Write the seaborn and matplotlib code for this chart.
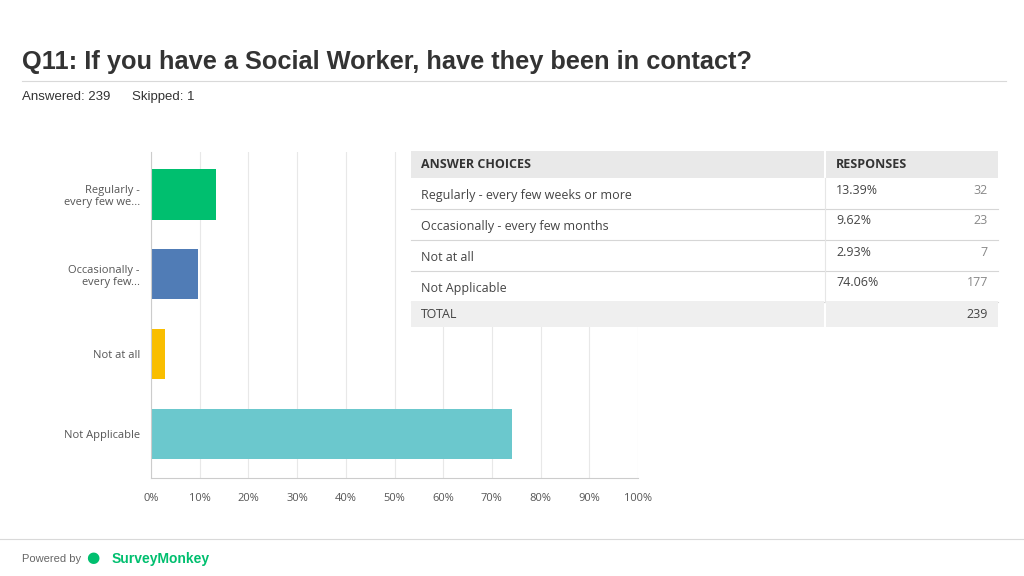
import matplotlib
matplotlib.use("Agg")
import matplotlib.pyplot as plt
import matplotlib.patches as mpatches
import pandas as pd
import seaborn as sns

# ── Data ─────────────────────────────────────────────────────────────────────
bar_labels = ["Regularly -\nevery few we...", "Occasionally -\nevery few...",
              "Not at all", "Not Applicable"]
choices = ["Regularly - every few weeks or more", "Occasionally - every few months",
           "Not at all", "Not Applicable"]
percents = [13.39, 9.62, 2.93, 74.06]
counts = [32, 23, 7, 177]
total = 239
skipped = 1
bar_colors = ["#00bf6f", "#507cb6", "#f9be00", "#6bc8cd"]
ticks = [0, 10, 20, 30, 40, 50, 60, 70, 80, 90, 100]

W, H = 1024, 576
fig = plt.figure(figsize=(W / 100, H / 100), dpi=100)
fig.patch.set_facecolor("white")

def fx(px):
    return px / W

def fy(py):
    return 1 - py / H

# ── Header / footer ──────────────────────────────────────────────────────────
fig.text(fx(22), fy(62), "Q11: If you have a Social Worker, have they been in contact?",
         fontsize=18.3, fontweight="bold", color="#333333", va="center", family="Liberation Sans")
fig.add_artist(plt.Line2D([fx(22), fx(1006)], [fy(81), fy(81)], color="#d9d9d9", lw=0.8))
fig.text(fx(22), fy(97), f"Answered: {total}", fontsize=9.5, color="#333333", va="center",
         family="Liberation Sans")
fig.text(fx(132), fy(97), f"Skipped: {skipped}", fontsize=9.5, color="#333333", va="center",
         family="Liberation Sans")
fig.add_artist(plt.Line2D([0, 1], [fy(539), fy(539)], color="#d9d9d9", lw=0.8))
fig.text(fx(22), fy(559), "Powered by", fontsize=8, color="#666666", va="center",
         family="Liberation Sans")
fig.text(fx(86), fy(558), "\u25CF", fontsize=11, color="#00bf6f", va="center")
fig.text(fx(112), fy(559), "SurveyMonkey", fontsize=10, fontweight="bold", color="#00bf6f",
         va="center", family="Liberation Sans")

# ── Bar chart ────────────────────────────────────────────────────────────────
df = pd.DataFrame({"label": bar_labels, "pct": percents})
ax = fig.add_axes([fx(151), fy(478), fx(638) - fx(151), fy(152) - fy(478)])
sns.barplot(data=df, y="label", x="pct", hue="label", palette=bar_colors,
            legend=False, width=0.63, ax=ax, saturation=1)
ax.set_xlim(0, 100)
ax.set_ylim(3.55, -0.53)
ax.set_xticks(ticks)
ax.set_xticklabels([f"{t}%" for t in ticks], fontsize=8, color="#555555", family="Open Sans")
ax.tick_params(axis="x", length=0, pad=11)
ax.tick_params(axis="y", length=0, pad=8, labelsize=8, labelcolor="#555555")
for lab in ax.get_yticklabels():
    lab.set_horizontalalignment("right")
    lab.set_multialignment("right")
    lab.set_family("Open Sans")
ax.set_xlabel("")
ax.set_ylabel("")
ax.grid(axis="x", color="#e8e8e8", lw=0.8)
ax.set_axisbelow(True)
for s in ["top", "right"]:
    ax.spines[s].set_visible(False)
ax.spines["left"].set_color("#cccccc")
ax.spines["bottom"].set_color("#cccccc")

# ── Table (drawn over the chart) ─────────────────────────────────────────────
x0, xs, x1 = 411, 825, 998
rows = [(151, 178)] + [(178 + 31 * i, 209 + 31 * i) for i in range(4)] + [(301, 327)]
fs = 9
fig.add_artist(mpatches.Rectangle((fx(x0), fy(327)), fx(x1) - fx(x0), fy(151) - fy(327),
                                  facecolor="white", edgecolor="none", zorder=3))
for i, (top, bot) in enumerate(rows):
    if i == 0 or i == len(rows) - 1:
        fc = "#e9e9e9" if i == 0 else "#efefef"
        for a, b in [(x0, xs - 1), (xs + 1, x1)]:
            fig.add_artist(mpatches.Rectangle((fx(a), fy(bot)), fx(b) - fx(a), fy(top) - fy(bot),
                                              facecolor=fc, edgecolor="none", zorder=4))
    else:
        fig.add_artist(plt.Line2D([fx(x0), fx(x1)], [fy(bot), fy(bot)], color="#d6d6d6",
                                  lw=0.8, zorder=4))
        fig.add_artist(plt.Line2D([fx(xs), fx(xs)], [fy(top), fy(bot)], color="#e6e6e6",
                                  lw=0.8, zorder=4))

txt = dict(va="center", zorder=5, family="Open Sans")
fig.text(fx(421), fy(164), "ANSWER CHOICES", fontsize=fs, fontweight="bold", color="#333333", **txt)
fig.text(fx(836), fy(164), "RESPONSES", fontsize=fs, fontweight="bold", color="#333333", **txt)
for i, (c, p, n) in enumerate(zip(choices, percents, counts)):
    top, bot = rows[i + 1]
    fig.text(fx(421), fy((top + bot) / 2 + 2), c, fontsize=fs, color="#444444", **txt)
    fig.text(fx(836), fy(top + 12), f"{p:.2f}%", fontsize=fs, color="#444444", **txt)
    fig.text(fx(988), fy(top + 12), str(n), fontsize=fs, color="#888888", ha="right", **txt)
fig.text(fx(421), fy(314), "TOTAL", fontsize=fs, color="#444444", **txt)
fig.text(fx(988), fy(314), str(total), fontsize=fs, color="#444444", ha="right", **txt)

fig.savefig("out.png", dpi=100)
